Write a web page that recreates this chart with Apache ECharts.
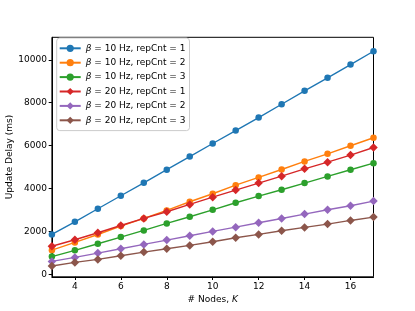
<!DOCTYPE html>
<html>
<head>
<meta charset="utf-8">
<script src="https://cdn.jsdelivr.net/npm/echarts@6/dist/echarts.min.js"></script>
<style>html,body{margin:0;padding:0;background:#fff;}#c{width:415px;height:311px;}</style>
</head>
<body>
<div id="c"></div>
<script>
const nodes = [3,4,5,6,7,8,9,10,11,12,13,14,15,16,17];
const betas = [10,10,10,20,20,20];
const reps = [1,2,3,1,2,3];
const b10r1 = [1860,2450,3060,3665,4270,4880,5490,6100,6705,7310,7930,8555,9160,9780,10400];
const b10r2 = [1130,1490,1860,2250,2610,2980,3385,3760,4160,4520,4890,5265,5620,5995,6370];
const b10r3 = [830,1120,1430,1740,2050,2375,2685,3010,3340,3650,3945,4255,4565,4875,5185];
const b20r1 = [1310,1615,1940,2280,2608,2920,3260,3600,3930,4255,4580,4920,5230,5560,5915];
const b20r2 = [605,792,993,1195,1397,1598,1800,2003,2203,2408,2608,2810,3015,3200,3415];
const b20r3 = [390,560,700,870,1040,1195,1350,1520,1710,1863,2035,2190,2343,2515,2670];
const xTicks = [4,6,8,10,12,14,16];
const yTicks = [0,2000,4000,6000,8000,10000];

const allData = [b10r1,b10r2,b10r3,b20r1,b20r2,b20r3];
const colors = ['#1f77b4','#ff7f0e','#2ca02c','#d62728','#9467bd','#8c564b'];
const symbols = ['circle','circle','circle','diamond','diamond','diamond'];
const FONT = 'DejaVu Sans';

const series = allData.map((d, i) => ({
  type: 'line',
  name: 'β = ' + betas[i] + ' Hz, repCnt = ' + reps[i],
  data: nodes.map((x, j) => [x, d[j]]),
  symbol: symbols[i],
  symbolSize: symbols[i] === 'circle' ? 6.5 : 8.5,
  showSymbol: true,
  clip: true,
  itemStyle: { color: colors[i] },
  lineStyle: { color: colors[i], width: 1.4 },
  emphasis: { disabled: true },
  animation: false
}));

const chart = echarts.init(document.getElementById('c'), null, { renderer: 'canvas' });
chart.setOption({
  animation: false,
  backgroundColor: '#fff',
  grid: { left: 51.9, right: 41.5, top: 37.3, bottom: 34.2, containLabel: false, outerBoundsMode: 'none', show: true, borderColor: '#000', borderWidth: 1, backgroundColor: 'transparent' },
  legend: {
    orient: 'vertical',
    left: 56.7, top: 38,
    padding: [5.8, 4, 5.8, 2],
    itemWidth: 21, itemHeight: 9, itemGap: 5.4,
    backgroundColor: 'rgba(255,255,255,0.8)',
    borderColor: '#cccccc', borderWidth: 1, borderRadius: 3,
    textStyle: { fontFamily: FONT, fontSize: 9, color: '#000', rich: { b: { fontFamily: FONT, fontSize: 9, fontStyle: 'italic', color: '#000' } } },
    formatter: name => '{b|β}' + name.slice(1),
    data: series.map(s => s.name)
  },
  xAxis: {
    type: 'value', min: 3, max: 17,
    name: '# Nodes, {k|K}', nameLocation: 'middle', nameGap: 18, nameMoveOverlap: false,
    nameTextStyle: { fontFamily: FONT, fontSize: 9, color: '#000', rich: { k: { fontFamily: FONT, fontSize: 9, fontStyle: 'italic', color: '#000' } } },
    axisLine: { show: true, onZero: false, lineStyle: { color: '#000', width: 1 } },
    axisTick: { show: true, length: 3.2, inside: false, customValues: xTicks, lineStyle: { color: '#000', width: 1 } },
    axisLabel: { customValues: xTicks, margin: 5, fontFamily: FONT, fontSize: 9, color: '#000', formatter: v => String(v) },
    splitLine: { show: false }
  },
  yAxis: {
    type: 'value', min: -112, max: 11050,
    name: 'Update Delay (ms)', nameLocation: 'middle', nameGap: 38, nameMoveOverlap: false,
    nameTextStyle: { fontFamily: FONT, fontSize: 9, color: '#000' },
    axisLine: { show: true, onZero: false, lineStyle: { color: '#000', width: 1 } },
    axisTick: { show: true, length: 3.2, inside: false, customValues: yTicks, lineStyle: { color: '#000', width: 1 } },
    axisLabel: { customValues: yTicks, margin: 5, fontFamily: FONT, fontSize: 9, color: '#000', formatter: v => String(v) },
    splitLine: { show: false }
  },
  series: series
});
</script>
</body>
</html>
